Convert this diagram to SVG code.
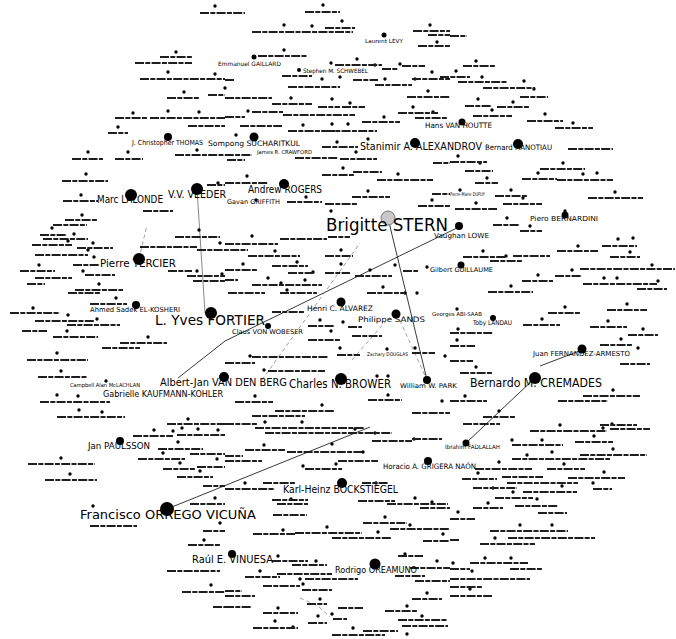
<svg xmlns="http://www.w3.org/2000/svg" width="676" height="639" viewBox="0 0 676 639">
<style>
.l{font-family:"DejaVu Sans","Liberation Sans",sans-serif;fill:#000}
.d{fill:#000}
.e{stroke:#222;stroke-width:0.9;fill:none}
.f{stroke:#777;stroke-width:0.7;fill:none;stroke-dasharray:4 3}
</style>
<rect width="676" height="639" fill="#fff"/>
<g id="connectors">
<path class="e" d="M388 218L427 380M178 378L225 341L459 227M167 509L370 427M466 443L535 378M540 366L582 350"/>
<path class="e" stroke-opacity="0.6" d="M197 189L205 313"/>
<path class="f" d="M262 380L360 243M352 360L385 322M397 314L427 380M300 598L318 606L330 617M139 259L147 225"/>
</g>
<g id="minor-nodes">
<path stroke="#000" stroke-width="3.4" stroke-linecap="round" fill="none" d="M215 6h0M176 52h0M168 72h0M215 74h0M184 92h0M133 113h0M168 111h0M199 112h0M118 127h0M88 152h0M128 152h0M197 150h0M86 174h0M81 195h0M218 183h0M323 5h0M284 25h0M312 26h0M342 21h0M430 25h0M437 42h0M284 50h0M331 63h0M357 59h0M375 65h0M400 64h0M432 72h0M322 79h0M340 77h0M385 79h0M415 79h0M225 88h0M428 91h0M291 98h0M332 99h0M350 103h0M248 111h0M413 107h0M433 112h0M384 117h0M303 125h0M332 124h0M348 124h0M236 135h0M337 142h0M368 139h0M356 152h0M343 168h0M398 174h0M247 176h0M368 191h0M306 197h0M331 211h0M432 200h0M256 200h0M476 61h0M456 71h0M482 77h0M524 81h0M534 89h0M478 99h0M513 102h0M492 110h0M545 114h0M573 123h0M458 156h0M480 163h0M563 163h0M538 173h0M583 174h0M597 173h0M487 178h0M460 190h0M511 190h0M523 198h0M476 203h0M615 192h0M565 211h0M82 215h0M52 228h0M74 234h0M68 241h0M93 243h0M88 250h0M94 257h0M39 265h0M83 271h0M99 284h0M116 298h0M33 308h0M68 315h0M97 319h0M67 331h0M148 337h0M57 353h0M61 371h0M106 381h0M57 395h0M78 396h0M79 410h0M102 412h0M188 419h0M199 230h0M220 243h0M197 271h0M222 274h0M252 236h0M275 251h0M341 250h0M243 264h0M297 262h0M313 272h0M341 264h0M370 270h0M395 265h0M427 267h0M268 278h0M281 283h0M305 280h0M287 290h0M383 287h0M405 293h0M417 293h0M320 320h0M343 322h0M331 331h0M250 356h0M340 348h0M387 349h0M415 348h0M445 356h0M264 370h0M377 376h0M388 376h0M255 396h0M388 395h0M322 405h0M265 422h0M302 422h0M442 401h0M457 309h0M507 218h0M530 226h0M618 239h0M633 238h0M578 246h0M506 256h0M483 251h0M630 252h0M652 265h0M572 270h0M538 275h0M604 278h0M617 278h0M658 281h0M511 286h0M565 307h0M627 304h0M542 319h0M608 321h0M643 329h0M458 329h0M457 340h0M621 339h0M638 348h0M476 367h0M613 390h0M465 396h0M499 411h0M560 425h0M612 424h0M154 430h0M173 431h0M182 428h0M198 429h0M218 430h0M178 442h0M163 453h0M217 459h0M61 458h0M70 474h0M180 463h0M200 471h0M215 498h0M93 506h0M220 523h0M204 540h0M211 585h0M355 429h0M375 433h0M414 439h0M264 445h0M332 444h0M363 452h0M336 464h0M303 466h0M245 483h0M376 483h0M415 498h0M432 502h0M291 499h0M385 517h0M410 525h0M327 527h0M283 530h0M378 532h0M443 534h0M278 556h0M316 561h0M260 571h0M300 579h0M405 554h0M437 561h0M303 584h0M320 599h0M332 614h0M318 616h0M278 608h0M275 621h0M293 627h0M427 593h0M407 606h0M422 616h0M353 628h0M407 634h0M603 428h0M512 440h0M542 440h0M594 436h0M613 449h0M552 452h0M527 455h0M499 462h0M564 464h0M604 472h0M478 473h0M593 483h0M493 488h0M562 486h0M513 492h0M537 499h0M488 503h0M458 512h0M520 525h0M552 525h0M495 538h0M485 558h0M511 558h0M453 563h0M472 571h0M470 589h0"/>
<path stroke="#1e1e1e" stroke-width="1.9" stroke-dasharray="9 1.3 5 1.3" fill="none" d="M200 13h45M160 57h32M135 63h57M140 79h85M167 98h33M208 95h17M115 118h33M150 118h75M188 126h37M108 133h20M72 159h31M115 159h28M175 155h77M62 181h46M63 201h35M207 185h18M143 211h30M305 12h35M252 32h101M325 28h30M413 31h37M428 35h22M418 46h32M258 56h49M335 65h47M382 69h16M402 66h23M282 76h30M288 87h52M353 80h25M375 85h37M412 79h38M225 80h10M225 98h47M407 97h43M272 104h40M318 107h22M342 107h23M252 112h31M283 115h72M398 113h40M225 117h20M362 122h38M415 118h32M240 126h42M288 131h47M325 131h52M322 147h36M295 158h43M340 159h37M227 160h18M433 163h17M322 175h33M353 172h29M377 180h56M225 183h43M352 197h38M432 194h18M287 202h35M325 204h32M418 206h32M450 36h17M463 66h32M440 77h30M458 82h49M483 88h52M520 97h28M465 106h27M497 107h33M473 116h39M527 121h36M555 128h38M568 149h45M450 162h37M465 171h28M540 169h45M522 179h35M557 180h56M475 183h23M495 196h32M455 209h42M503 204h39M588 198h55M65 220h32M53 225h34M40 235h27M43 239h45M32 245h40M77 248h36M35 255h53M73 265h27M20 271h35M85 275h30M35 278h37M27 284h18M75 290h48M68 293h32M90 304h37M10 313h50M35 321h60M67 325h53M22 331h25M53 337h45M120 343h47M102 348h38M27 360h61M38 377h49M40 402h70M57 417h68M167 424h58M175 237h45M140 247h57M197 250h51M168 271h24M187 276h38M193 281h32M225 244h53M280 239h47M328 237h22M248 256h52M325 256h28M225 270h33M272 266h36M288 273h27M325 273h25M355 276h37M403 271h15M225 280h13M252 285h70M228 293h37M280 293h37M367 293h38M272 312h33M308 326h27M348 327h14M308 340h32M352 336h30M252 357h76M225 363h30M337 355h23M412 353h23M268 371h57M235 402h38M368 400h34M275 411h60M252 416h53M225 424h33M412 413h38M493 225h27M520 231h22M602 246h35M557 251h41M463 257h42M513 256h37M490 261h32M610 257h30M580 269h95M555 276h27M522 281h31M583 284h74M637 289h30M488 292h45M548 313h32M607 310h40M523 325h37M590 327h37M628 335h30M450 333h43M450 346h25M600 345h33M620 364h30M450 361h23M460 373h33M583 396h57M558 401h50M450 401h37M483 417h32M463 424h37M600 425h37M133 436h40M177 435h48M158 449h45M138 459h47M190 454h35M28 464h67M45 480h52M163 469h32M197 467h28M177 477h36M203 486h22M190 504h35M90 526h47M203 531h22M188 545h32M167 571h53M182 592h43M213 607h12M255 428h110M265 433h127M372 441h40M412 439h30M245 450h40M287 452h75M225 461h37M225 456h18M338 461h40M305 469h37M263 483h32M225 489h50M362 483h26M358 501h37M387 504h61M272 500h36M277 504h31M420 508h30M363 523h44M273 515h34M390 529h60M295 533h67M332 538h60M253 534h42M423 541h27M272 561h36M292 565h35M245 577h35M277 574h55M305 579h53M263 586h37M398 556h25M410 568h40M395 576h30M415 581h35M302 590h30M225 591h17M225 596h30M307 604h20M338 608h25M333 619h14M308 623h19M263 613h35M225 607h27M253 628h45M412 599h30M385 611h33M398 620h49M332 635h53M363 631h35M402 626h46M530 431h77M610 429h40M512 445h51M575 442h38M580 455h67M512 459h98M475 469h57M547 469h38M568 478h57M462 479h35M502 477h41M507 483h71M593 489h19M473 488h44M523 492h54M495 498h38M515 506h43M473 508h30M538 513h29M450 519h25M490 531h78M480 544h55M508 538h87M450 540h10M470 563h58M510 569h33M450 569h20M450 579h80M450 587h33M450 596h42"/>
</g>
<g id="n-stern"><circle cx="388" cy="218" r="7" fill="#c8c8c8" stroke="#777" stroke-width="1"/><text class="l" x="326" y="231" font-size="17" textLength="122" lengthAdjust="spacingAndGlyphs">Brigitte STERN</text></g>
<g id="n-fortier"><circle class="d" cx="211" cy="313" r="6"/><text class="l" x="155" y="325" font-size="14" textLength="110" lengthAdjust="spacingAndGlyphs">L. Yves FORTIER</text></g>
<g id="n-tercier"><circle class="d" cx="139" cy="259" r="6"/><text class="l" x="100" y="267" font-size="10" textLength="76" lengthAdjust="spacingAndGlyphs">Pierre TERCIER</text></g>
<g id="n-lalonde"><circle class="d" cx="131" cy="195" r="6"/><text class="l" x="97" y="203" font-size="10" textLength="66" lengthAdjust="spacingAndGlyphs">Marc LALONDE</text></g>
<g id="n-veeder"><circle class="d" cx="197" cy="189" r="6"/><text class="l" x="168" y="198" font-size="10" textLength="58" lengthAdjust="spacingAndGlyphs">V.V. VEEDER</text></g>
<g id="n-thomas"><circle class="d" cx="168" cy="137" r="4"/><text class="l" x="132" y="145" font-size="7" textLength="71" lengthAdjust="spacingAndGlyphs">J. Christopher THOMAS</text></g>
<g id="n-sucharitkul"><circle class="d" cx="254" cy="137" r="4.5"/><text class="l" x="208" y="146" font-size="7.5" textLength="92" lengthAdjust="spacingAndGlyphs">Sompong SUCHARITKUL</text></g>
<g id="n-rogers"><circle class="d" cx="284" cy="184" r="5"/><text class="l" x="248" y="193" font-size="10" textLength="74" lengthAdjust="spacingAndGlyphs">Andrew ROGERS</text></g>
<g id="n-griffith"><text class="l" x="227" y="204" font-size="6.5" textLength="53" lengthAdjust="spacingAndGlyphs">Gavan GRIFFITH</text></g>
<g id="n-crawford"><text class="l" x="257" y="154" font-size="5.5" textLength="55" lengthAdjust="spacingAndGlyphs">James R. CRAWFORD</text></g>
<g id="n-alexandrov"><circle class="d" cx="415" cy="143" r="5"/><text class="l" x="360" y="150" font-size="10" textLength="122" lengthAdjust="spacingAndGlyphs">Stanimir A. ALEXANDROV</text></g>
<g id="n-hanotiau"><circle class="d" cx="518" cy="144" r="5"/><text class="l" x="485" y="150" font-size="7.5" textLength="67" lengthAdjust="spacingAndGlyphs">Bernard HANOTIAU</text></g>
<g id="n-vanhoutte"><circle class="d" cx="462" cy="122" r="3.5"/><text class="l" x="425" y="128" font-size="7.5" textLength="67" lengthAdjust="spacingAndGlyphs">Hans VAN HOUTTE</text></g>
<g id="n-levy"><circle class="d" cx="384" cy="35" r="2.5"/><text class="l" x="365" y="43" font-size="5.5" textLength="38" lengthAdjust="spacingAndGlyphs">Laurent LÉVY</text></g>
<g id="n-gaillard"><circle class="d" cx="254" cy="57" r="2.5"/><text class="l" x="218" y="66" font-size="6" textLength="63" lengthAdjust="spacingAndGlyphs">Emmanuel GAILLARD</text></g>
<g id="n-schwebel"><circle class="d" cx="299" cy="70" r="2"/><text class="l" x="303" y="73" font-size="6" textLength="65" lengthAdjust="spacingAndGlyphs">Stephen M. SCHWEBEL</text></g>
<g id="n-dupuy"><text class="l" x="450" y="196" font-size="5" textLength="35" lengthAdjust="spacingAndGlyphs">Pierre-Marie DUPUY</text></g>
<g id="n-bernardini"><circle class="d" cx="565" cy="215" r="3.5"/><text class="l" x="530" y="221" font-size="7" textLength="68" lengthAdjust="spacingAndGlyphs">Piero BERNARDINI</text></g>
<g id="n-lowe"><circle class="d" cx="459" cy="226" r="4"/><text class="l" x="434" y="238" font-size="7" textLength="55" lengthAdjust="spacingAndGlyphs">Vaughan LOWE</text></g>
<g id="n-guillaume"><circle class="d" cx="461" cy="265" r="3.5"/><text class="l" x="430" y="272" font-size="6.5" textLength="63" lengthAdjust="spacingAndGlyphs">Gilbert GUILLAUME</text></g>
<g id="n-abisaab"><text class="l" x="432" y="316" font-size="5.5" textLength="50" lengthAdjust="spacingAndGlyphs">Georges ABI-SAAB</text></g>
<g id="n-landau"><circle class="d" cx="493" cy="318" r="3"/><text class="l" x="473" y="325" font-size="6.5" textLength="39" lengthAdjust="spacingAndGlyphs">Toby LANDAU</text></g>
<g id="n-fernandez"><circle class="d" cx="582" cy="349" r="4.5"/><text class="l" x="533" y="356" font-size="7" textLength="97" lengthAdjust="spacingAndGlyphs">Juan FERNANDEZ-ARMESTO</text></g>
<g id="n-cremades"><circle class="d" cx="535" cy="378" r="6"/><text class="l" x="470" y="387" font-size="12" textLength="132" lengthAdjust="spacingAndGlyphs">Bernardo M. CREMADES</text></g>
<g id="n-park"><circle class="d" cx="427" cy="380" r="4"/><text class="l" x="400" y="388" font-size="6.5" textLength="57" lengthAdjust="spacingAndGlyphs">William W. PARK</text></g>
<g id="n-brower"><circle class="d" cx="341" cy="379" r="6"/><text class="l" x="289" y="388" font-size="11.5" textLength="102" lengthAdjust="spacingAndGlyphs">Charles N. BROWER</text></g>
<g id="n-vandenberg"><circle class="d" cx="224" cy="377" r="5"/><text class="l" x="160" y="386" font-size="11" textLength="127" lengthAdjust="spacingAndGlyphs">Albert-Jan VAN DEN BERG</text></g>
<g id="n-kaufmann"><text class="l" x="103" y="397" font-size="8.5" textLength="120" lengthAdjust="spacingAndGlyphs">Gabrielle KAUFMANN-KOHLER</text></g>
<g id="n-elkosheri"><circle class="d" cx="136" cy="305" r="4"/><text class="l" x="90" y="312" font-size="7" textLength="90" lengthAdjust="spacingAndGlyphs">Ahmed Sadek EL-KOSHERI</text></g>
<g id="n-alvarez"><circle class="d" cx="341" cy="302" r="4.5"/><text class="l" x="307" y="311" font-size="7.5" textLength="66" lengthAdjust="spacingAndGlyphs">Henri C. ALVAREZ</text></g>
<g id="n-sands"><circle class="d" cx="396" cy="314" r="4.5"/><text class="l" x="358" y="322" font-size="7.5" textLength="67" lengthAdjust="spacingAndGlyphs">Philippe SANDS</text></g>
<g id="n-wobeser"><circle class="d" cx="268" cy="326" r="3"/><text class="l" x="232" y="334" font-size="6.5" textLength="71" lengthAdjust="spacingAndGlyphs">Claus VON WOBESER</text></g>
<g id="n-douglas"><text class="l" x="367" y="356" font-size="5" textLength="41" lengthAdjust="spacingAndGlyphs">Zachary DOUGLAS</text></g>
<g id="n-mclachlan"><text class="l" x="70" y="387" font-size="5.5" textLength="70" lengthAdjust="spacingAndGlyphs">Campbell Alan McLACHLAN</text></g>
<g id="n-paulsson"><circle class="d" cx="120" cy="441" r="4"/><text class="l" x="88" y="449" font-size="8" textLength="62" lengthAdjust="spacingAndGlyphs">Jan PAULSSON</text></g>
<g id="n-orrego"><circle class="d" cx="167" cy="509" r="7"/><text class="l" x="80" y="519" font-size="13" textLength="176" lengthAdjust="spacingAndGlyphs">Francisco ORREGO VICUÑA</text></g>
<g id="n-bockstiegel"><circle class="d" cx="342" cy="483" r="5"/><text class="l" x="283" y="493" font-size="10.5" textLength="115" lengthAdjust="spacingAndGlyphs">Karl-Heinz BÖCKSTIEGEL</text></g>
<g id="n-grigera"><circle class="d" cx="428" cy="461" r="4"/><text class="l" x="383" y="469" font-size="7.5" textLength="93" lengthAdjust="spacingAndGlyphs">Horacio A. GRIGERA NAÓN</text></g>
<g id="n-fadlallah"><circle class="d" cx="466" cy="443" r="3.5"/><text class="l" x="445" y="449" font-size="6" textLength="55" lengthAdjust="spacingAndGlyphs">Ibrahim FADLALLAH</text></g>
<g id="n-vinuesa"><circle class="d" cx="232" cy="554" r="4"/><text class="l" x="192" y="563" font-size="10" textLength="81" lengthAdjust="spacingAndGlyphs">Raúl E. VINUESA</text></g>
<g id="n-oreamuno"><circle class="d" cx="375" cy="564" r="5.5"/><text class="l" x="335" y="573" font-size="8" textLength="82" lengthAdjust="spacingAndGlyphs">Rodrigo OREAMUNO</text></g>
</svg>
